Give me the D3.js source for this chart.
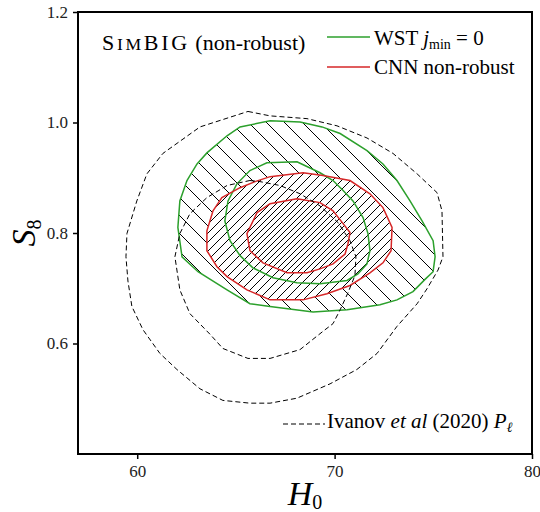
<!DOCTYPE html>
<html>
<head>
<meta charset="utf-8">
<script src="https://cdn.jsdelivr.net/npm/d3@7"></script>
<style>
  body { margin: 0; background: #fff; }
  svg { display: block; }
  svg text { font-family: 'Liberation Serif', 'Times New Roman', serif; }
</style>
</head>
<body>
<svg id="chart"></svg>
<script>
// axis ticks
const h0Ticks = [60, 70, 80]
const s8Ticks = [0.6, 0.8, 1.0, 1.2]

// contours, [H0, S8]
const ivanov95 = [
  [65.61, 1.020], [66.73, 1.012], [68.60, 1.007], [70.12, 0.994], [71.64, 0.972],
  [72.96, 0.944], [74.18, 0.907], [75.19, 0.873], [75.44, 0.840], [75.49, 0.757],
  [75.24, 0.733], [74.68, 0.699], [74.18, 0.672], [73.16, 0.631], [72.15, 0.582],
  [71.13, 0.553], [69.77, 0.527], [68.09, 0.501], [66.73, 0.492], [65.71, 0.492],
  [64.34, 0.497], [63.18, 0.518], [62.01, 0.553], [61.15, 0.582], [60.29, 0.625],
  [59.73, 0.667], [59.53, 0.713], [59.43, 0.757], [59.48, 0.799], [59.98, 0.858],
  [60.49, 0.907], [61.30, 0.944], [63.18, 0.992]
]
const ivanov68 = [
  [65.71, 0.895], [66.22, 0.893], [67.23, 0.886], [68.25, 0.871], [69.26, 0.849],
  [70.17, 0.819], [70.78, 0.786], [71.08, 0.757], [71.03, 0.723], [70.68, 0.692],
  [70.28, 0.661], [69.92, 0.636], [69.41, 0.622], [68.25, 0.589], [66.73, 0.573],
  [65.61, 0.573], [64.34, 0.591], [63.68, 0.617], [62.67, 0.654], [62.16, 0.697],
  [61.91, 0.757], [62.16, 0.799], [62.67, 0.835], [63.53, 0.864], [64.55, 0.886]
]
const wst95 = [
  [66.73, 1.003], [68.25, 1.001], [69.36, 0.992], [70.28, 0.980], [71.64, 0.949],
  [72.45, 0.925], [73.16, 0.895], [73.82, 0.858], [74.43, 0.822], [74.99, 0.786],
  [75.09, 0.757], [74.99, 0.730], [74.58, 0.716], [73.97, 0.694], [73.16, 0.679],
  [72.30, 0.670], [70.63, 0.661], [68.91, 0.657], [66.73, 0.667], [65.71, 0.672],
  [64.55, 0.697], [63.08, 0.730], [62.27, 0.757], [62.06, 0.810], [62.16, 0.858],
  [62.52, 0.895], [63.03, 0.925], [63.53, 0.945], [64.55, 0.976], [65.21, 0.992]
]
const wst68 = [
  [68.09, 0.929], [69.26, 0.909], [69.92, 0.895], [70.43, 0.877], [70.93, 0.858],
  [71.44, 0.828], [71.69, 0.799], [71.79, 0.768], [71.64, 0.744], [71.18, 0.726],
  [70.63, 0.714], [69.26, 0.708], [68.09, 0.710], [66.88, 0.719], [65.86, 0.737],
  [65.21, 0.759], [64.70, 0.786], [64.44, 0.822], [64.60, 0.858], [65.05, 0.889],
  [65.71, 0.913], [66.57, 0.927]
]
const cnn95 = [
  [66.73, 0.902], [68.40, 0.909], [69.41, 0.904], [70.78, 0.895], [71.79, 0.871],
  [72.45, 0.846], [72.91, 0.810], [72.86, 0.768], [72.45, 0.746], [71.79, 0.728],
  [70.78, 0.705], [69.61, 0.690], [68.40, 0.679], [66.73, 0.679], [65.56, 0.697],
  [64.55, 0.721], [64.04, 0.739], [63.53, 0.768], [63.53, 0.804], [63.84, 0.840],
  [64.29, 0.864], [65.21, 0.882], [65.97, 0.893]
]
const cnn68 = [
  [68.09, 0.862], [69.26, 0.855], [69.92, 0.840], [70.43, 0.817], [70.78, 0.801],
  [70.68, 0.781], [70.53, 0.762], [69.92, 0.744], [69.26, 0.735], [68.60, 0.728],
  [67.59, 0.728], [66.37, 0.746], [65.71, 0.768], [65.56, 0.799], [66.07, 0.837],
  [66.73, 0.853]
]

const green = '#2ca02c'
const red = '#d62728'
const serif = "'Liberation Serif', 'Times New Roman', serif"

const width = 540
const height = 512
const margin = { top: 12, right: 8, bottom: 58, left: 78 }

const svg = d3.select('#chart').attr('width', width).attr('height', height)

const x = d3.scaleLinear().domain([57, 80]).range([margin.left, width - margin.right])
const y = d3.scaleLinear().domain([0.4, 1.2]).range([height - margin.bottom, margin.top])

// hatch patterns, tiled from the page origin so lines run on across regions
const defs = svg.append('defs')
const addHatch = (id, p, dir) => {
  const d = dir === 'back'
    ? `M0,0L${p},${p}M${-p / 4},${3 * p / 4}L${p / 4},${5 * p / 4}M${3 * p / 4},${-p / 4}L${5 * p / 4},${p / 4}`
    : `M0,${p}L${p},0M${-p / 4},${p / 4}L${p / 4},${-p / 4}M${3 * p / 4},${5 * p / 4}L${5 * p / 4},${3 * p / 4}`
  defs.append('pattern')
    .attr('id', id)
    .attr('patternUnits', 'userSpaceOnUse')
    .attr('width', p)
    .attr('height', p)
    .append('path')
    .attr('d', d)
    .attr('stroke', '#000')
    .attr('stroke-width', 1)
    .attr('fill', 'none')
}
addHatch('hatch-green', 18, 'back')
addHatch('hatch-red', 9, 'fwd')
addHatch('hatch-red-dense', 6, 'fwd')

const line = d3.line()
  .x((d) => x(d[0]))
  .y((d) => y(d[1]))
  .curve(d3.curveLinearClosed)

const plot = svg.append('g')

// filled (hatched) regions
plot.append('path').attr('d', line(wst95)).attr('fill', 'url(#hatch-green)')
plot.append('path').attr('d', line(cnn95)).attr('fill', '#fff')
plot.append('path').attr('d', line(cnn95)).attr('fill', 'url(#hatch-red)')
plot.append('path').attr('d', line(cnn68)).attr('fill', '#fff')
plot.append('path').attr('d', line(cnn68)).attr('fill', 'url(#hatch-red-dense)')

// contour lines
const outlines = [
  { data: wst95, color: green, dash: null },
  { data: wst68, color: green, dash: null },
  { data: cnn95, color: red, dash: null },
  { data: cnn68, color: red, dash: null },
  { data: ivanov95, color: '#000', dash: '5,3' },
  { data: ivanov68, color: '#000', dash: '5,3' }
]
plot.selectAll('.contour')
  .data(outlines)
  .enter()
  .append('path')
  .attr('class', 'contour')
  .attr('d', (d) => line(d.data))
  .attr('fill', 'none')
  .attr('stroke', (d) => d.color)
  .attr('stroke-width', (d) => (d.dash ? 1 : 1.5))
  .attr('stroke-dasharray', (d) => d.dash)

// axes
const xAxis = svg.append('g')
  .attr('transform', `translate(0,${height - margin.bottom})`)
  .call(d3.axisBottom(x).tickValues(h0Ticks).tickSize(5).tickPadding(6))
const yAxis = svg.append('g')
  .attr('transform', `translate(${margin.left},0)`)
  .call(d3.axisLeft(y).tickValues(s8Ticks).tickFormat(d3.format('.1f')).tickSize(5).tickPadding(5))

;[xAxis, yAxis].forEach((ax) => {
  ax.attr('font-family', serif).attr('font-size', 17)
  ax.select('.domain').remove()
  ax.selectAll('.tick line').attr('stroke', '#000').attr('stroke-width', 1.5)
  ax.selectAll('.tick text').attr('fill', '#222')
})

// frame
svg.append('rect')
  .attr('x', margin.left)
  .attr('y', margin.top)
  .attr('width', width - margin.left - margin.right)
  .attr('height', height - margin.top - margin.bottom)
  .attr('fill', 'none')
  .attr('stroke', '#000')
  .attr('stroke-width', 2)

// axis labels
const xLabel = svg.append('text')
  .attr('x', (margin.left + width - margin.right) / 2)
  .attr('y', 505)
  .attr('text-anchor', 'middle')
  .attr('font-family', serif)
  .attr('font-size', 34)
xLabel.append('tspan').attr('font-style', 'italic').text('H')
xLabel.append('tspan').attr('dy', 4).attr('font-size', 20).text('0')

const yLabel = svg.append('text')
  .attr('transform', `translate(35,${(margin.top + height - margin.bottom) / 2}) rotate(-90)`)
  .attr('text-anchor', 'middle')
  .attr('font-family', serif)
  .attr('font-size', 34)
yLabel.append('tspan').attr('font-style', 'italic').text('S')
yLabel.append('tspan').attr('dy', 6).attr('font-size', 20).text('8')

// title
const title = svg.append('text')
  .attr('x', 102)
  .attr('y', 50)
  .attr('font-family', serif)
  .attr('font-size', 22)
title.append('tspan').attr('letter-spacing', 2.7).text('S')
title.append('tspan').attr('font-size', 17.6).attr('letter-spacing', 2.7).text('IM')
title.append('tspan').attr('letter-spacing', 2.7).text('BIG')
title.append('tspan').text(' (non-robust)')

// legend, upper right
const legendTop = [
  { color: green, yPos: 37 },
  { color: red, yPos: 67 }
]
svg.selectAll('.leg-line')
  .data(legendTop)
  .enter()
  .append('line')
  .attr('class', 'leg-line')
  .attr('x1', 327)
  .attr('x2', 370)
  .attr('y1', (d) => d.yPos)
  .attr('y2', (d) => d.yPos)
  .attr('stroke', (d) => d.color)
  .attr('stroke-width', 1.5)

const wstText = svg.append('text').attr('x', 374).attr('y', 45)
  .attr('font-family', serif).attr('font-size', 21)
wstText.append('tspan').text('WST ')
wstText.append('tspan').attr('font-style', 'italic').text('j')
wstText.append('tspan').attr('dy', 4).attr('font-size', 14).text('min')
wstText.append('tspan').attr('dy', -4).text(' = 0')

svg.append('text').attr('x', 374).attr('y', 74)
  .attr('font-family', serif).attr('font-size', 21)
  .text('CNN non-robust')

// legend, lower right
svg.append('line')
  .attr('x1', 283)
  .attr('x2', 325)
  .attr('y1', 424)
  .attr('y2', 424)
  .attr('stroke', '#000')
  .attr('stroke-width', 1.2)
  .attr('stroke-dasharray', '5,3')

const ivText = svg.append('text').attr('x', 327).attr('y', 428)
  .attr('font-family', serif).attr('font-size', 21)
ivText.append('tspan').text('Ivanov ')
ivText.append('tspan').attr('font-style', 'italic').text('et al')
ivText.append('tspan').text(' (2020) ')
ivText.append('tspan').attr('font-style', 'italic').text('P')
ivText.append('tspan').attr('dy', 4).attr('font-size', 14).attr('font-style', 'italic').text('ℓ')
</script>
</body>
</html>
